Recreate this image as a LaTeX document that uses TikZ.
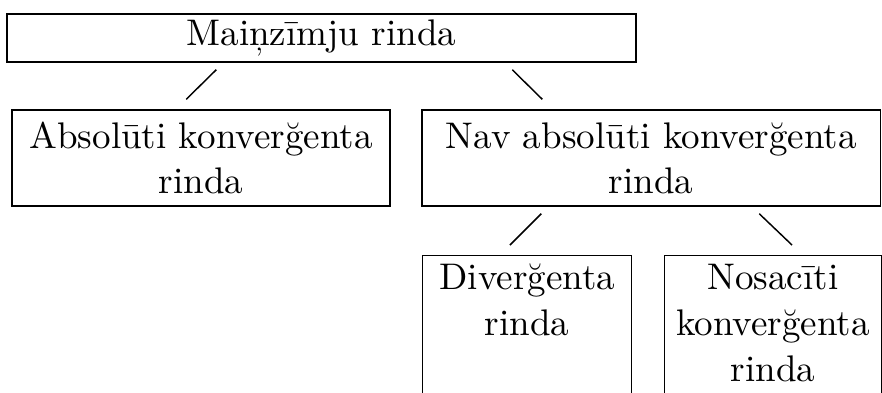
\documentclass[tikz,border=0pt]{standalone}
\usetikzlibrary{calc}
\newcommand\pxu{0.274pt}
\begin{document}
\begin{tikzpicture}[x=0.274pt,y=-0.274pt,
  box/.style={draw, line width=0.4pt, inner sep=0pt, align=center, font=\fontsize{10.15}{12.4}\selectfont},
  txt/.style={align=center, inner sep=0pt, font=\fontsize{10.15}{12.6}\selectfont},
  link/.style={line width=0.4pt}]
\useasboundingbox (0,0) rectangle (882,392);
\clip (0,0) rectangle (882,392);
\node[box, minimum width=629*\pxu, minimum height=48*\pxu] (top) at (321.5,38) {Maiņzīmju rinda};
\node[box, minimum width=378*\pxu, minimum height=96*\pxu] (abs) at (201,158) {Absolūti konverğenta\\rinda};
\node[box, minimum width=458.5*\pxu, minimum height=96*\pxu] (nav) at (651.25,158) {Nav absolūti konverğenta\\rinda};
\node[box, minimum width=209*\pxu, minimum height=175*\pxu, anchor=north west] (div) at (422,255) {};
\node[box, minimum width=216.5*\pxu, minimum height=175*\pxu, anchor=north west] (nos) at (664,255) {};
\node[txt, anchor=north] (divt) at ($(div.north)+(0,8)$) {Diverğenta\\rinda};
\node[txt, anchor=north] (nost) at ($(nos.north)+(0,8)$) {Nosacīti\\konverğenta\\rinda};
\draw[link] ($(top.south west)+(210,7)$) -- ($(abs.north west)+(175,-10)$);
\draw[link] ($(top.south west)+(506,7)$) -- ($(nav.north west)+(121,-10)$);
\draw[link] ($(nav.south west)+(120,7)$) -- ($(div.north west)+(88,-10)$);
\draw[link] ($(nav.south west)+(338,7)$) -- ($(nos.north west)+(128,-10)$);
\end{tikzpicture}
\end{document}
